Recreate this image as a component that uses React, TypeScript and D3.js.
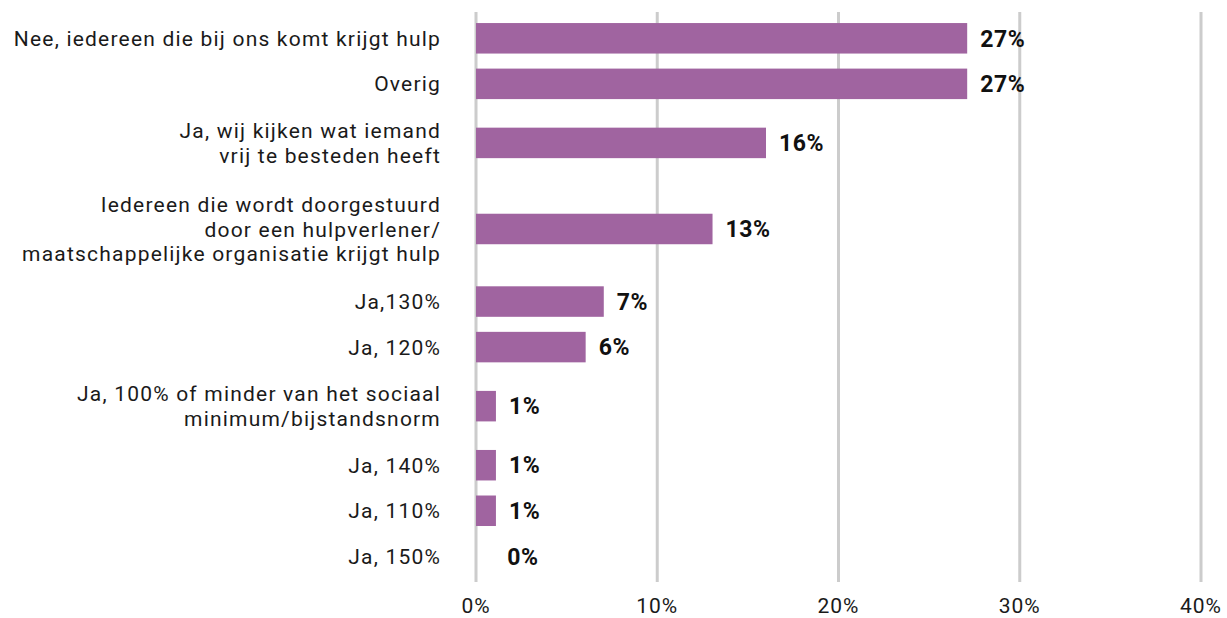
import React, { useEffect, useRef } from "react";
import * as d3 from "d3";

const categories: string[][] = [
  ["Nee, iedereen die bij ons komt krijgt hulp"],
  ["Overig"],
  ["Ja, wij kijken wat iemand", "vrij te besteden heeft"],
  ["Iedereen die wordt doorgestuurd", "door een hulpverlener/", "maatschappelijke organisatie krijgt hulp"],
  ["Ja,130%"],
  ["Ja, 120%"],
  ["Ja, 100% of minder van het sociaal", "minimum/bijstandsnorm"],
  ["Ja, 140%"],
  ["Ja, 110%"],
  ["Ja, 150%"],
];
const values: number[] = [27.1, 27.1, 16, 13.05, 7.05, 6.05, 1.1, 1.1, 1.1, 0];
const tickValues: number[] = [0, 10, 20, 30, 40];

const W = 1227;
const H = 618;
const FONT = "Roboto, 'DejaVu Sans', sans-serif";

export default function App() {
  const ref = useRef<SVGSVGElement>(null);
  useEffect(() => {
    document.body.style.margin = "0";
    const svg = d3.select(ref.current);
    svg.selectAll("*").remove();

    const x = d3.scaleLinear().domain([0, 40]).range([476, 1201]);

    // row layout: base spacing between centres plus extra per additional label line
    const baseGap = 45.5;
    const perLine = 13.5;
    const units: number[] = [];
    let acc = 0;
    categories.forEach((c, i) => {
      if (i > 0) acc += baseGap + perLine * ((categories[i - 1].length - 1) + (c.length - 1));
      units.push(acc);
    });
    const y = d3.scaleLinear().domain([0, acc]).range([38.3, 556.3]);
    const barH = 30.5;
    const lineH = 24.6;

    // gridlines
    svg.append("g")
      .selectAll("line")
      .data(tickValues)
      .join("line")
      .attr("x1", (d) => x(d))
      .attr("x2", (d) => x(d))
      .attr("y1", 12)
      .attr("y2", 582)
      .attr("stroke", "#cccccc")
      .attr("stroke-width", 3);

    // tick labels
    svg.append("g")
      .selectAll("text")
      .data(tickValues)
      .join("text")
      .attr("x", (d) => x(d))
      .attr("y", 613)
      .attr("text-anchor", "middle")
      .attr("font-family", FONT)
      .attr("font-size", 21)
      .attr("letter-spacing", "1")
      .attr("fill", "#1a1a1a")
      .text((d) => d + "%");

    // bars
    svg.append("g")
      .selectAll("rect")
      .data(values)
      .join("rect")
      .attr("x", x(0))
      .attr("y", (d, i) => y(units[i]) - barH / 2)
      .attr("width", (d) => x(d) - x(0))
      .attr("height", barH)
      .attr("fill", "#a064a0");

    // value labels
    svg.append("g")
      .selectAll("text")
      .data(values)
      .join("text")
      .attr("x", (d) => Math.max(x(d), x(1)) + 13)
      .attr("y", (d, i) => y(units[i]))
      .attr("dy", "0.36em")
      .attr("font-family", FONT)
      .attr("font-weight", "bold")
      .attr("font-size", 23)
      .attr("letter-spacing", "0.6")
      .attr("fill", "#111")
      .text((d) => Math.round(d) + "%");

    // category labels
    const lab = svg.append("g")
      .selectAll("text")
      .data(categories)
      .join("text")
      .attr("text-anchor", "end")
      .attr("font-family", FONT)
      .attr("font-size", 21)
      .attr("letter-spacing", "1.2")
      .attr("fill", "#1a1a1a");
    lab.each(function (lines, i) {
      const t = d3.select(this);
      const cy = y(units[i]);
      lines.forEach((ln, j) => {
        t.append("tspan")
          .attr("x", 441)
          .attr("y", cy + (j - (lines.length - 1) / 2) * lineH)
          .attr("dy", "0.36em")
          .text(ln);
      });
    });
  }, []);
  return <svg ref={ref} width={W} height={H} style={{ display: "block" }} />;
}
